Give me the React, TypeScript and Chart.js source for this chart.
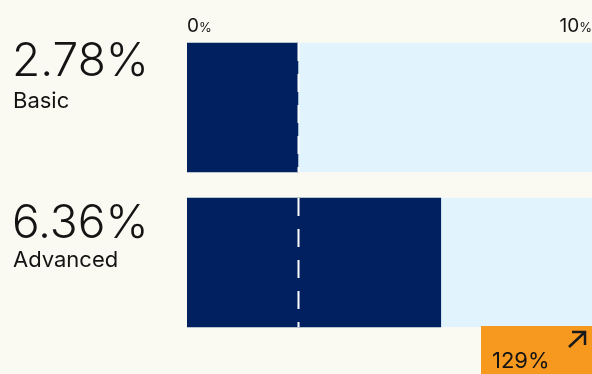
import React, { useEffect, useRef } from "react";
import { Chart, registerables } from "chart.js";

Chart.register(...registerables);

const categories = ["Basic", "Advanced"];
const values = [2.78, 6.36];
const valueLabels = ["2.78%", "6.36%"];
const tickValues = [0, 10];
const tickLabels = ["0", "10"];
const baselineValue = 2.78;
const changeLabel = "129%";
const scaleMax = 10.15;

const BG = "#fbfaf2";
const NAVY = "#002060";
const LIGHT = "#e1f4fd";
const ORANGE = "#f7991f";
const INK = "#141414";
const FONT = "Inter, 'Noto Sans', sans-serif";

// layout offsets (px below each bar's top edge) for the left-side text
const NUM_OFFSETS = [33, 40];
const LABEL_OFFSETS = [65, 69];

const overlay = {
  id: "overlay",
  beforeDraw(chart: any) {
    const { ctx, width, height } = chart;
    ctx.save();
    ctx.fillStyle = BG;
    ctx.fillRect(0, 0, width, height);
    ctx.restore();
  },
  afterDatasetsDraw(chart: any) {
    const { ctx, chartArea } = chart;
    const xs = chart.scales.x;
    const meta = chart.getDatasetMeta(0);
    ctx.save();
    // dashed baseline
    const bx = Math.round(xs.getPixelForValue(baselineValue)) + 0.5;
    ctx.strokeStyle = "#ffffff";
    ctx.lineWidth = 2;
    ctx.setLineDash([18, 13]);
    meta.data.forEach((bar: any) => {
      const top = bar.y - bar.height / 2;
      const bottom = bar.y + bar.height / 2;
      ctx.beginPath();
      ctx.moveTo(bx, top);
      ctx.lineTo(bx, bottom);
      ctx.stroke();
    });
    ctx.setLineDash([]);

    // left labels
    ctx.fillStyle = INK;
    ctx.textAlign = "left";
    ctx.textBaseline = "alphabetic";
    meta.data.forEach((bar: any, i: number) => {
      const top = bar.y - bar.height / 2;
      ctx.font = `300 46px ${FONT}`;
      ctx.fillText(valueLabels[i], 12, top + NUM_OFFSETS[i]);
      ctx.font = `400 22px ${FONT}`;
      ctx.fillText(categories[i], 13, top + LABEL_OFFSETS[i]);
    });

    // top tick labels
    tickValues.forEach((v, i) => {
      const px = xs.getPixelForValue(v);
      const big = `400 19px ${FONT}`;
      const small = `400 13px ${FONT}`;
      ctx.font = big;
      const w1 = ctx.measureText(tickLabels[i]).width;
      ctx.font = small;
      const w2 = ctx.measureText("%").width;
      let x0 = px;
      if (i === tickValues.length - 1) x0 = chartArea.right - (w1 + w2);
      ctx.font = big;
      ctx.fillText(tickLabels[i], x0, 32);
      ctx.font = small;
      ctx.fillText("%", x0 + w1, 32);
    });

    // orange change box
    const lastBar: any = meta.data[meta.data.length - 1];
    const boxTop = lastBar.y + lastBar.height / 2 - 1;
    const boxLeft = 481;
    ctx.fillStyle = ORANGE;
    ctx.fillRect(boxLeft, boxTop, chart.width - boxLeft, chart.height - boxTop);
    ctx.fillStyle = INK;
    ctx.font = `400 22px ${FONT}`;
    ctx.fillText(changeLabel, 492, 368);
    // arrow
    ctx.strokeStyle = "#1a1a1a";
    ctx.lineWidth = 2.5;
    ctx.lineCap = "butt";
    ctx.beginPath();
    ctx.moveTo(569, 347);
    ctx.lineTo(585, 332);
    ctx.moveTo(572, 332);
    ctx.lineTo(585, 332);
    ctx.lineTo(585, 345);
    ctx.stroke();
    ctx.restore();
  },
};

export default function App() {
  const ref = useRef<HTMLCanvasElement | null>(null);
  useEffect(() => {
    if (!ref.current) return;
    const chart = new Chart(ref.current, {
      type: "bar",
      data: {
        labels: categories,
        datasets: [
          {
            data: values,
            backgroundColor: NAVY,
            barThickness: 129,
            grouped: false,
            order: 1,
          } as any,
          {
            data: categories.map(() => scaleMax),
            backgroundColor: LIGHT,
            barThickness: 129,
            grouped: false,
            order: 2,
          } as any,
        ],
      },
      options: {
        indexAxis: "y",
        animation: false,
        responsive: false,
        devicePixelRatio: 1,
        layout: { padding: { left: 187, right: 0, top: 30, bottom: 34 } },
        plugins: { legend: { display: false }, tooltip: { enabled: false } },
        scales: {
          x: { display: false, min: 0, max: scaleMax },
          y: { display: false },
        },
      },
      plugins: [overlay],
    });
    return () => chart.destroy();
  }, []);
  return (
    <div style={{ position: "fixed", left: 0, top: 0, width: 592, height: 374, background: BG }}>
      <canvas ref={ref} width={592} height={374} style={{ display: "block" }} />
    </div>
  );
}
